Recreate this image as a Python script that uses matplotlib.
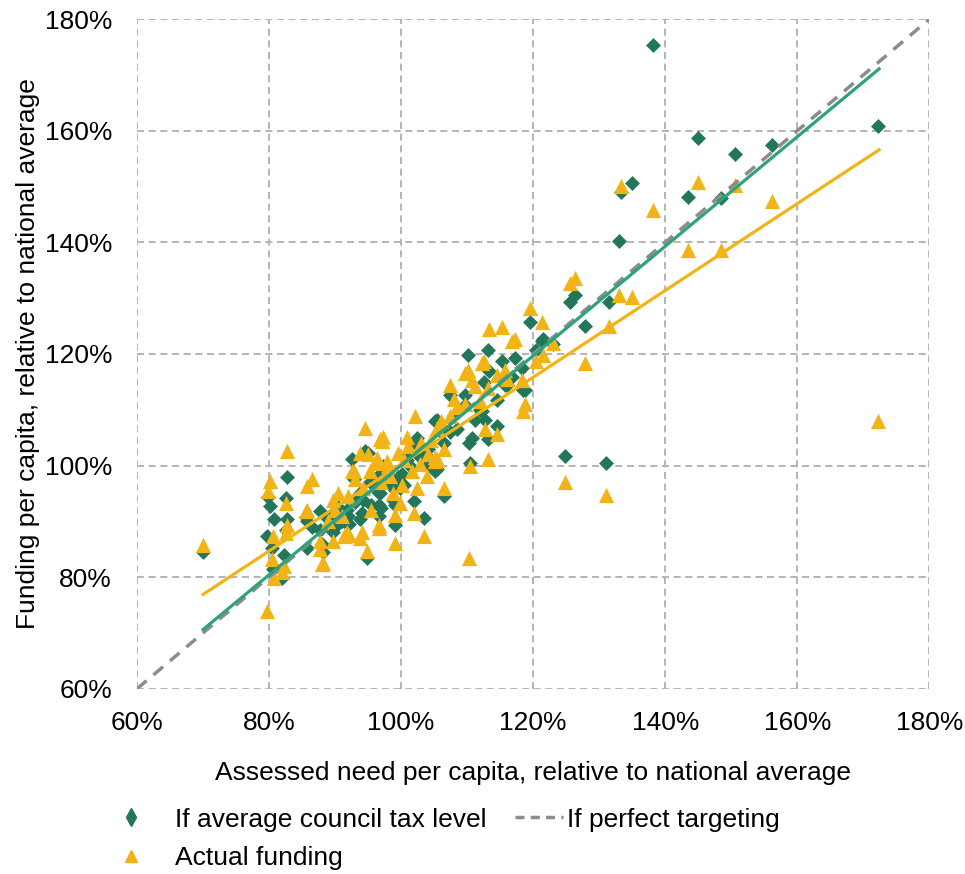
import matplotlib.pyplot as plt
from matplotlib.lines import Line2D

plt.rcParams['font.family'] = ['Liberation Sans', 'DejaVu Sans']

# assessed need per capita (% of national average) for each authority
need = [70.0, 79.7, 79.9, 80.2, 80.4, 80.6, 80.7, 81.9, 82.2, 82.6,
        82.7, 82.7, 82.6, 85.6, 85.7, 86.5, 85.7, 87.7, 88.0, 87.7,
        88.2, 89.7, 89.7, 91.3, 91.8, 92.1, 92.5, 92.8, 93.8, 93.8,
        94.0, 94.3, 94.5, 94.8, 95.0, 95.3, 95.5, 96.3, 96.3, 96.6,
        96.6, 96.8, 96.9, 97.1, 97.3, 97.8, 98.3, 98.8, 99.1, 99.1,
        99.6, 99.8, 100.9, 101.6, 101.9, 102.1, 102.4, 102.9, 103.4, 103.9,
        105.2, 105.2, 105.4, 105.4, 106.5, 106.5, 107.4, 107.4, 109.7, 109.7,
        110.2, 110.3, 110.5, 110.7, 111.2, 112.0, 112.2, 112.5, 112.7, 113.2,
        113.2, 113.3, 114.5, 114.5, 115.3, 115.8, 116.0, 117.3, 116.8, 118.3,
        118.5, 118.8, 119.5, 120.5, 121.3, 121.5, 123.0, 124.8, 125.6, 126.4,
        127.9, 131.0, 131.5, 133.0, 133.3, 135.0, 138.2, 143.5, 145.0, 148.5,
        150.5, 156.2, 172.3,
        98.0, 100.2, 100.5, 101.0, 103.0, 104.0, 104.5, 106.0, 108.0, 108.5,
        90.5, 91.0, 92.0, 93.0, 89.0, 90.0]

# funding per capita if every council set average council tax
avg_ctax = [84.5, 87.3, 94.3, 92.7, 85.3, 81.5, 90.5, 79.9, 84.0, 94.2,
            98.0, 90.5, 88.5, 90.8, 85.3, 89.0, 90.0, 91.8, 86.0, 88.5,
            84.5, 91.5, 88.0, 90.0, 92.1, 89.5, 101.1, 97.5, 95.0, 90.5,
            91.5, 93.9, 102.6, 83.5, 102.3, 97.0, 93.0, 95.5, 98.0, 91.0,
            93.0, 95.1, 92.4, 98.5, 100.0, 99.0, 96.5, 93.9, 89.4, 93.0,
            98.0, 96.0, 101.0, 99.5, 93.6, 104.0, 104.9, 101.5, 90.6, 100.0,
            107.9, 99.0, 108.2, 99.3, 94.5, 104.0, 112.7, 106.0, 112.7, 110.9,
            119.9, 104.0, 100.5, 104.9, 108.2, 110.0, 109.7, 115.0, 108.2, 104.7,
            120.8, 117.0, 111.8, 107.0, 118.7, 114.5, 114.5, 119.3, 115.8, 117.5,
            113.6, 113.6, 125.8, 120.8, 122.3, 122.6, 121.7, 101.7, 129.4, 130.6,
            125.1, 100.5, 129.4, 140.2, 149.0, 150.6, 175.4, 148.2, 158.7, 147.9,
            155.9, 157.5, 160.8,
            97.0, 98.5, 96.5, 102.0, 102.5, 103.0, 101.0, 106.0, 109.0, 106.5,
            92.5, 90.0, 91.0, 93.5, 90.5, 89.0]

# actual funding per capita
actual = [85.8, 73.9, 95.4, 97.2, 83.2, 87.3, 79.9, 81.0, 82.0, 93.3,
          102.6, 89.4, 87.9, 91.8, 96.3, 97.5, 92.1, 86.4, 82.3, 85.0,
          82.6, 93.9, 86.4, 87.3, 88.0, 87.5, 99.0, 99.0, 102.3, 87.0,
          88.0, 96.0, 106.7, 84.7, 102.0, 99.0, 92.1, 101.4, 100.5, 89.4,
          88.8, 104.8, 97.0, 104.4, 105.2, 100.8, 98.1, 95.0, 86.2, 91.2,
          102.3, 93.3, 105.2, 99.0, 91.5, 108.8, 96.0, 100.2, 87.3, 98.1,
          100.8, 101.5, 106.7, 101.1, 96.0, 103.0, 114.5, 108.8, 111.0, 116.6,
          117.2, 83.5, 99.9, 115.4, 114.2, 111.5, 118.4, 118.7, 106.5, 101.1,
          113.9, 124.4, 116.3, 105.6, 124.9, 117.2, 115.5, 122.6, 122.3, 115.4,
          109.7, 111.0, 128.3, 118.7, 125.8, 119.9, 122.0, 97.1, 132.8, 133.6,
          118.4, 94.8, 125.0, 130.6, 150.1, 130.3, 145.8, 138.7, 150.9, 138.7,
          150.2, 147.5, 107.9,
          100.0, 96.5, 101.0, 103.5, 104.0, 102.0, 104.5, 108.0, 112.0, 110.5,
          95.0, 91.0, 94.5, 97.5, 90.0, 92.0]

# trend lines (start and end points)
trend_x = [70.0, 172.4]
trend_ctax = [70.6, 171.1]
trend_actual = [76.9, 156.6]
perfect = [60, 180]

ticks = [60, 80, 100, 120, 140, 160, 180]
tick_labels = ['60%', '80%', '100%', '120%', '140%', '160%', '180%']

GREEN = '#22775A'
GREEN_LINE = '#2EA37A'
AMBER = '#F2B316'
GREY = '#8C8C8C'

fig = plt.figure(figsize=(9.65, 8.74), dpi=100)
ax = fig.add_axes([0.142, 0.212, 0.821, 0.766])

ax.scatter(need, avg_ctax, marker='D', s=58, color=GREEN, linewidths=0, zorder=3)
ax.scatter(need, actual, marker='^', s=120, color=AMBER, linewidths=0, zorder=3)
ax.plot(perfect, perfect, color=GREY, lw=2.5, dashes=(3.6, 2.6), zorder=4)
ax.plot(trend_x, trend_actual, color=AMBER, lw=2.3, zorder=5)
ax.plot(trend_x, trend_ctax, color=GREEN_LINE, lw=2.3, zorder=5)

ax.set_xlim(60, 180)
ax.set_ylim(60, 180)
ax.set_xticks(ticks)
ax.set_xticklabels(tick_labels)
ax.set_yticks(ticks)
ax.set_yticklabels(tick_labels)
ax.tick_params(length=0, labelsize=19, pad=16)
ax.tick_params(axis='y', pad=18)
for s in ax.spines.values():
    s.set_visible(False)
ax.grid(True, color='#B4B4B4', linestyle=(0, (3.6, 2.4)), lw=1.4, zorder=0)

ax.set_xlabel('Assessed need per capita, relative to national average', fontsize=19, labelpad=19)
ax.set_ylabel('Funding per capita, relative to national average', fontsize=19, labelpad=3)

# legend: two markers stacked on the left, dashed line to the right
h_markers = [Line2D([], [], marker='d', color=GREEN, ls='none', markersize=9),
             Line2D([], [], marker='^', color=AMBER, ls='none', markersize=8.5)]
fig.legend(h_markers, ['If average council tax level', 'Actual funding'],
           loc='upper left', bbox_to_anchor=(0.097, 0.088), frameon=False,
           fontsize=19, handlelength=2.0, handletextpad=0.7,
           labelspacing=0.54, borderaxespad=0)
h_line = [Line2D([], [], color=GREY, lw=2.5, dashes=(2.6, 1.8))]
fig.legend(h_line, ['If perfect targeting'], loc='upper left',
           bbox_to_anchor=(0.523, 0.088), frameon=False, fontsize=19,
           handlelength=1.8, handletextpad=0.15, borderaxespad=0)

fig.savefig('out.png', dpi=100)
